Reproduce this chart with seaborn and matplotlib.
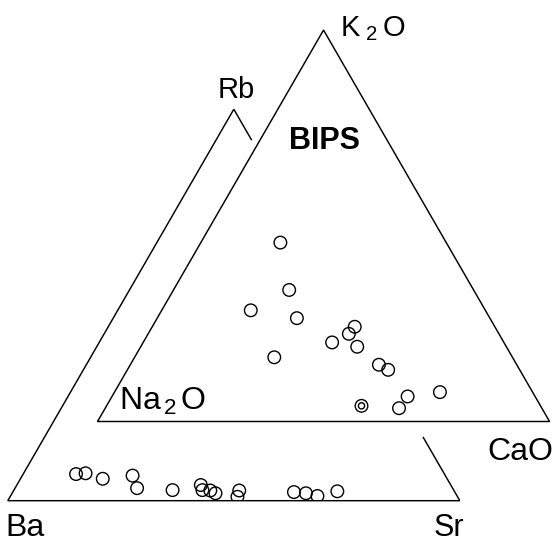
import numpy as np
import pandas as pd
import matplotlib
matplotlib.use("Agg")
import matplotlib.pyplot as plt
import seaborn as sns
from matplotlib.patches import Polygon

# Rb-Ba-Sr compositions (percent), lower triangle
rb = [6.8, 7.0, 5.6, 6.4, 3.2, 2.7, 4.0, 2.7, 2.6, 1.9, 2.6, 1.0, 2.2, 1.9, 1.2, 2.4]
sr = [11.7, 13.7, 18.2, 24.4, 27.0, 35.1, 40.7, 41.7, 43.5, 45.0, 49.9, 50.3, 62.2, 65.0, 67.9, 71.7]
ba = [100 - a - b for a, b in zip(rb, sr)]

# K2O-Na2O-CaO compositions (percent), upper triangle
k2o = [45.7, 33.6, 28.4, 26.4, 20.2, 22.4, 24.2, 19.1, 16.4, 14.5, 13.2, 4.0, 3.4, 6.4, 7.5]
cao = [17.6, 25.6, 19.7, 30.9, 41.8, 44.4, 44.8, 47.9, 30.9, 55.0, 57.7, 56.4, 65.0, 65.4, 72.0]
na2o = [100 - a - b for a, b in zip(k2o, cao)]
# sample drawn with a double ring
ringed = [False] * 11 + [True] + [False] * 3

H = np.sqrt(3) / 2
OX, OY = 0.1985, 0.1752          # Na2O corner of the oxide triangle
RB_GAP = (0.079, 0.837)          # hidden stretch of the Rb-Sr edge


def to_xy(right, top, origin=(0.0, 0.0)):
    r = np.asarray(right) / 100.0
    t = np.asarray(top) / 100.0
    return origin[0] + r + t / 2, origin[1] + t * H


sns.set_theme(style="white")
plt.rcParams["font.family"] = ["Liberation Sans", "DejaVu Sans"]
plt.rcParams["mathtext.default"] = "regular"
plt.rcParams["text.color"] = "black"

fig = plt.figure(figsize=(5.56, 5.42), dpi=100)
ax = fig.add_axes([0, 0, 1, 1])
ax.set_xlim(-0.0173, 1.2128)
ax.set_ylim(-0.0914, 1.1077)
ax.axis("off")

line_kw = dict(color="black", lw=1.05, solid_capstyle="butt", solid_joinstyle="miter")

# Ba-Sr-Rb triangle
ba_pt = np.array([0.0, 0.0])
sr_pt = np.array([1.0, 0.0])
rb_pt = np.array([0.5, H])
ax.plot([sr_pt[0], ba_pt[0], rb_pt[0]], [sr_pt[1], ba_pt[1], rb_pt[1]], **line_kw)
p1 = rb_pt + (sr_pt - rb_pt) * RB_GAP[0]
p2 = rb_pt + (sr_pt - rb_pt) * RB_GAP[1]
ax.plot([rb_pt[0], p1[0]], [rb_pt[1], p1[1]], **line_kw)
ax.plot([p2[0], sr_pt[0]], [p2[1], sr_pt[1]], **line_kw)

# Na2O-CaO-K2O triangle
na_pt = np.array([OX, OY])
ca_pt = na_pt + [1.0, 0.0]
k_pt = na_pt + [0.5, H]
tri = np.array([na_pt, ca_pt, k_pt, na_pt])
ax.plot(tri[:, 0], tri[:, 1], **line_kw)

# data points
lx, ly = to_xy(sr, rb)
lower = pd.DataFrame({"x": lx, "y": ly, "Rb": rb, "Ba": ba, "Sr": sr})
ux, uy = to_xy(cao, k2o, (OX, OY))
upper = pd.DataFrame({"x": ux, "y": uy, "K2O": k2o, "Na2O": na2o, "CaO": cao, "ringed": ringed})

clip = Polygon([ba_pt, sr_pt, rb_pt], closed=True, transform=ax.transData,
               fill=False, lw=0)
ax.add_patch(clip)

n0 = len(ax.collections)
sns.scatterplot(data=lower, x="x", y="y", ax=ax, s=82, marker="o", legend=False)
sns.scatterplot(data=upper, x="x", y="y", ax=ax, s=82, marker="o", legend=False)
sns.scatterplot(data=upper[upper["ringed"]], x="x", y="y", ax=ax, s=20,
                marker="o", legend=False)
for i, coll in enumerate(ax.collections[n0:]):
    coll.set_facecolor("none")
    coll.set_edgecolor("black")
    coll.set_linewidth(1.0)
    if i == 0:
        coll.set_clip_path(clip)

ax.set_xlim(-0.0173, 1.2128)
ax.set_ylim(-0.0914, 1.1077)
ax.set_xlabel("")
ax.set_ylabel("")

# corner labels
txt = dict(color="black", va="baseline")
ax.text(0.735, 1.0274, r"K$_{\;2\;}$O", fontsize=21, ha="left", **txt)
ax.text(0.505, 0.891, "Rb", fontsize=21, ha="center", **txt)
ax.text(0.7006, 0.777, "BIPS", fontsize=22, fontweight="bold", ha="center", **txt)
ax.text(0.2460, 0.2002, r"Na$_{\,2\,}$O", fontsize=23, ha="left", **txt)
ax.text(1.1339, 0.0900, "CaO", fontsize=23, ha="center", **txt)
ax.text(0.0378, -0.0775, "Ba", fontsize=23, ha="center", **txt)
ax.text(0.9748, -0.0775, "Sr", fontsize=22, ha="center", **txt)

fig.savefig("out.png", dpi=100, facecolor="white")
